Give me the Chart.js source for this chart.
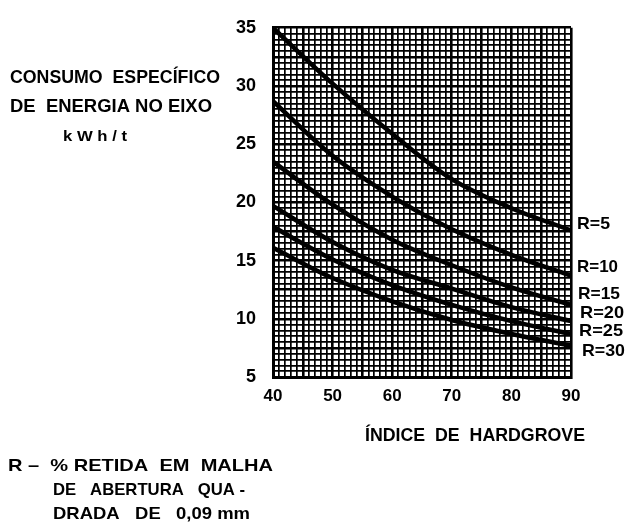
<!DOCTYPE html>
<html>
<head>
<meta charset="utf-8">
<script src="https://cdn.jsdelivr.net/npm/chart.js@4.4.0/dist/chart.umd.min.js"></script>
<style>
html,body{margin:0;padding:0;background:#fff;}
#c{display:block;}
</style>
</head>
<body>
<canvas id="c" width="627" height="529"></canvas>
<script>
// Hardgrove index (x)
const hgi = [40, 50, 60, 70, 80, 90];
// Specific energy consumption, kWh/t, per retained fraction R
const r5  = [35.0, 30.2, 25.9, 22.0, 19.5, 17.6];
const r10 = [28.7, 24.0, 20.5, 17.7, 15.5, 13.7];
const r15 = [23.5, 19.8, 16.8, 14.6, 12.7, 11.2];
const r20 = [19.7, 16.6, 14.2, 12.6, 11.0, 9.8];
const r25 = [17.9, 15.1, 12.9, 11.2, 9.8, 8.7];
const r30 = [16.1, 13.5, 11.5, 9.9, 8.7, 7.7];
const seriesNames = ['R=5', 'R=10', 'R=15', 'R=20', 'R=25', 'R=30'];
const xTickLabels = [40, 50, 60, 70, 80, 90];
const yTickLabels = [5, 10, 15, 20, 25, 30, 35];

const allSeries = [r5, r10, r15, r20, r25, r30];
const FONT = '"Liberation Sans", "DejaVu Sans", sans-serif';

function near(v, step) { return Math.abs(v / step - Math.round(v / step)) < 1e-6; }

const datasets = allSeries.map((s, i) => ({
  label: seriesNames[i],
  data: hgi.map((x, j) => ({ x: x, y: s[j] })),
  borderColor: '#000',
  borderWidth: 4.5,
  pointRadius: 0,
  fill: false,
  tension: 0.35,
  cubicInterpolationMode: 'default'
}));

const textPlugin = {
  id: 'texts',
  afterDraw(chart) {
    const ctx = chart.ctx;
    ctx.save();
    ctx.fillStyle = '#000';
    ctx.textBaseline = 'middle';
    ctx.textAlign = 'left';
    // draw text stretched/condensed to span from x0 to x1
    function t(str, x0, x1, y, size) {
      ctx.font = 'bold ' + size + 'px ' + FONT;
      const w = ctx.measureText(str).width;
      ctx.save();
      ctx.translate(x0, y);
      ctx.scale((x1 - x0) / w, 1);
      ctx.fillText(str, 0, 0);
      ctx.restore();
    }
    // y-axis title
    t('CONSUMO  ESPECÍFICO', 10, 220, 78, 18);
    t('DE  ENERGIA NO EIXO', 10, 212, 107, 18);
    t('k W h / t', 63, 127, 137, 15);
    // x-axis title
    t('ÍNDICE  DE  HARDGROVE', 365, 585, 436, 18);
    // note
    t('R –  % RETIDA  EM  MALHA', 8, 273, 466, 17);
    t('DE   ABERTURA   QUA -', 53, 245, 490, 17);
    t('DRADA   DE   0,09 mm', 53, 250, 514, 17);
    // series labels at right
    const lab = [[577, 610, 224], [577, 618, 267], [578, 620, 294], [580, 624, 313], [579, 623, 331], [582, 625, 351]];
    seriesNames.forEach((n, i) => {
      t(n, lab[i][0], lab[i][1], lab[i][2], 17);
    });
    ctx.restore();
  }
};

new Chart(document.getElementById('c'), {
  type: 'line',
  data: { datasets },
  options: {
    responsive: false,
    animation: false,
    devicePixelRatio: 1,
    layout: { padding: { left: 0, top: 20, right: 56, bottom: 0 } },
    plugins: { legend: { display: false }, tooltip: { enabled: false } },
    scales: {
      x: {
        type: 'linear',
        min: 40, max: 90,
        afterFit(scale) { scale.height = 152; },
        border: { display: true, color: '#000', width: 3 },
        grid: {
          color: '#000',
          lineWidth: (c) => (c.tick && near(c.tick.value, 5)) ? 2.6 : 1.7,
          drawTicks: false
        },
        ticks: {
          stepSize: 1,
          autoSkip: false,
          maxRotation: 0,
          padding: 9,
          color: '#000',
          font: { family: FONT, size: 17, weight: 'bold' },
          callback: (v) => xTickLabels.includes(v) ? String(v) : ''
        }
      },
      y: {
        type: 'linear',
        min: 5, max: 35,
        afterFit(scale) { scale.width = 273; },
        border: { display: true, color: '#000', width: 3 },
        grid: {
          color: '#000',
          lineWidth: (c) => (c.tick && near(c.tick.value, 2.5)) ? 2.6 : 1.7,
          drawTicks: false
        },
        ticks: {
          stepSize: 0.5,
          autoSkip: false,
          padding: 17,
          color: '#000',
          font: { family: FONT, size: 18, weight: 'bold' },
          callback: (v) => yTickLabels.includes(v) ? String(v) : ''
        }
      }
    }
  },
  plugins: [textPlugin]
});
</script>
</body>
</html>
